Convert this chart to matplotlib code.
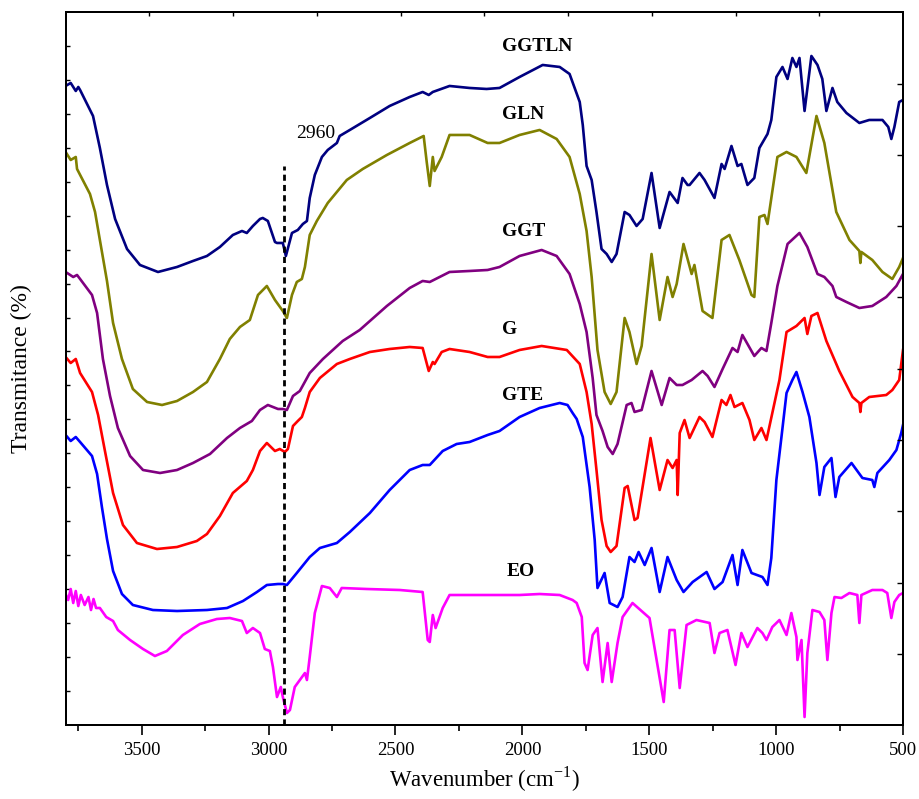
import numpy as np
import matplotlib
matplotlib.use("Agg")
import matplotlib.pyplot as plt
from matplotlib.ticker import MultipleLocator, FixedLocator

plt.rcParams['font.family'] = ['Liberation Serif', 'DejaVu Serif']
plt.rcParams['mathtext.fontset'] = 'custom'
plt.rcParams['mathtext.rm'] = 'Liberation Serif'

# ---------------- data (wavenumber cm^-1, offset transmittance, a.u.) ----------------
ggtln_x = [3800, 3780, 3760, 3750, 3743, 3692, 3665, 3637, 3605, 3558, 3507, 3436, 3361, 3298, 3243,
           3192, 3141, 3105, 3086, 3062, 3034, 3023, 3003, 2975, 2967, 2944, 2932, 2908, 2885, 2865,
           2849, 2838, 2818, 2790, 2767, 2731, 2720, 2680, 2601, 2523, 2444, 2393, 2369, 2353, 2287,
           2208, 2141, 2090, 2011, 1920, 1853, 1814, 1774, 1762, 1747, 1727, 1708, 1688, 1668, 1648,
           1629, 1597, 1578, 1550, 1526, 1491, 1459, 1420, 1388, 1369, 1349, 1341, 1302, 1282, 1243,
           1215, 1203, 1176, 1152, 1137, 1113, 1086, 1066, 1034, 1019, 999, 975, 955, 936, 920, 908,
           888, 861, 837, 818, 802, 778, 759, 723, 672, 633, 581, 558, 546, 534, 515, 500]
ggtln_y = [63.9, 64.2, 63.4, 63.8, 63.5, 60.9, 57.7, 54.0, 50.6, 47.6, 46.0, 45.3, 45.8, 46.4, 46.9,
           47.8, 49.0, 49.4, 49.2, 49.9, 50.6, 50.7, 50.4, 48.3, 48.2, 48.2, 46.9, 49.2, 49.5, 50.1,
           50.4, 52.7, 55.0, 56.8, 57.5, 58.2, 58.9, 59.5, 60.7, 61.9, 62.8, 63.3, 63.0, 63.3, 63.9,
           63.7, 63.6, 63.7, 64.8, 66.0, 65.8, 65.1, 62.3, 60.0, 55.9, 54.5, 51.3, 47.6, 47.1, 46.3,
           47.1, 51.3, 51.0, 49.9, 50.6, 55.2, 49.7, 53.3, 52.2, 54.7, 54.0, 54.0, 55.2, 54.5, 52.7,
           56.1, 55.6, 57.9, 55.9, 56.1, 54.0, 54.7, 57.7, 59.1, 60.5, 64.8, 65.8, 64.6, 66.7, 65.8, 66.7,
           61.4, 66.9, 66.0, 64.6, 61.4, 63.7, 62.3, 61.2, 60.2, 60.5, 60.5, 59.8, 58.6, 59.8, 62.3, 62.5]

gln_x = [3800, 3780, 3760, 3755, 3704, 3684, 3665, 3637, 3613, 3578, 3535, 3479, 3420, 3361, 3298,
         3243, 3192, 3153, 3113, 3074, 3042, 3007, 2975, 2944, 2928, 2908, 2889, 2869, 2857, 2838,
         2810, 2767, 2692, 2629, 2534, 2444, 2389, 2377, 2365, 2353, 2346, 2318, 2287, 2208, 2137,
         2090, 2011, 1932, 1865, 1814, 1774, 1747, 1727, 1704, 1676, 1652, 1629, 1597, 1578, 1550,
         1530, 1491, 1459, 1428, 1408, 1392, 1365, 1333, 1322, 1290, 1251, 1215, 1184, 1145, 1097,
         1086, 1066, 1046, 1034, 995, 959, 920, 881, 841, 810, 763, 711, 672, 668, 664, 621, 581,
         542, 515, 500]
gln_y = [57.3, 56.5, 56.8, 55.6, 53.1, 51.3, 48.5, 44.4, 40.2, 36.6, 33.6, 32.3, 32.0, 32.4, 33.3,
         34.3, 36.6, 38.6, 39.8, 40.5, 43.0, 43.9, 42.5, 41.4, 40.7, 43.0, 44.3, 44.6, 45.8, 49.0,
         50.4, 52.2, 54.5, 55.6, 57.0, 58.2, 58.9, 56.3, 53.9, 56.8, 55.4, 56.8, 59.0, 59.0, 58.2,
         58.2, 59.0, 59.5, 58.6, 56.8, 53.1, 49.4, 44.8, 37.5, 33.3, 32.1, 33.3, 40.7, 39.3, 36.1,
         37.9, 47.1, 40.5, 44.8, 42.8, 44.1, 48.1, 45.1, 46.0, 41.4, 40.7, 48.5, 49.0, 46.5, 43.0,
         42.8, 50.8, 51.0, 50.1, 56.8, 57.3, 56.8, 55.2, 60.9, 58.2, 51.3, 48.5, 47.4, 46.2, 47.3,
         46.5, 45.3, 44.6, 45.8, 46.7]

ggt_x = [3800, 3770, 3755, 3743, 3696, 3676, 3653, 3625, 3594, 3546, 3495, 3428, 3361, 3298, 3231,
         3164, 3113, 3066, 3034, 3003, 2963, 2944, 2928, 2904, 2877, 2838, 2786, 2708, 2641, 2534,
         2444, 2393, 2365, 2287, 2208, 2137, 2090, 2011, 1924, 1865, 1814, 1774, 1747, 1723, 1708,
         1684, 1664, 1644, 1625, 1589, 1570, 1558, 1530, 1491, 1451, 1420, 1392, 1369, 1333, 1290,
         1270, 1243, 1211, 1172, 1152, 1133, 1086, 1058, 1038, 1019, 995, 955, 908, 877, 837, 810,
         778, 763, 723, 672, 621, 566, 526, 500]
ggt_y = [45.3, 44.8, 45.0, 44.6, 43.0, 41.2, 36.6, 32.9, 29.7, 26.9, 25.5, 25.2, 25.5, 26.2, 27.1,
         28.7, 29.7, 30.4, 31.5, 32.0, 31.6, 31.6, 31.5, 32.9, 33.4, 35.2, 36.6, 38.4, 39.5, 41.9,
         43.7, 44.4, 44.3, 45.3, 45.4, 45.5, 45.8, 46.9, 47.5, 46.9, 45.1, 42.1, 39.3, 34.7, 31.0,
         29.4, 27.8, 27.1, 28.1, 32.0, 32.2, 31.3, 31.5, 35.4, 32.0, 34.7, 34.0, 34.0, 34.5, 35.4,
         34.9, 33.8, 35.6, 37.7, 37.3, 39.0, 36.9, 37.7, 37.4, 40.2, 43.9, 48.1, 49.2, 47.8, 45.1, 44.8,
         43.9, 42.8, 42.3, 41.7, 41.9, 42.8, 43.9, 45.1]

g_x = [3800, 3780, 3760, 3743, 3696, 3672, 3645, 3613, 3574, 3519, 3440, 3361, 3283, 3243, 3192,
       3141, 3086, 3062, 3034, 3007, 2975, 2956, 2936, 2924, 2904, 2885, 2869, 2857, 2838, 2798,
       2731, 2680, 2601, 2523, 2444, 2393, 2369, 2353, 2346, 2318, 2287, 2208, 2137, 2090, 2011,
       1924, 1825, 1774, 1747, 1727, 1708, 1688, 1668, 1652, 1629, 1597, 1585, 1558, 1546, 1495,
       1459, 1428, 1408, 1392, 1388, 1380, 1361, 1341, 1302, 1282, 1251, 1215, 1196, 1180, 1164,
       1133, 1105, 1086, 1058, 1038, 1015, 987, 959, 920, 888, 877, 861, 837, 802, 751, 699, 672,
       668, 664, 633, 566, 542, 515, 500]
g_y = [36.8, 36.2, 36.6, 35.2, 33.3, 31.0, 27.4, 23.2, 20.0, 18.2, 17.6, 17.8, 18.4, 19.1, 20.9,
       23.2, 24.4, 25.5, 27.4, 28.2, 27.4, 27.6, 27.3, 27.6, 29.9, 30.4, 30.8, 31.7, 33.3, 34.7,
       36.1, 36.6, 37.3, 37.6, 37.8, 37.7, 35.4, 36.3, 36.1, 37.3, 37.6, 37.3, 36.8, 36.8, 37.5,
       37.9, 37.5, 36.1, 33.3, 30.1, 25.5, 20.5, 17.9, 17.3, 17.9, 23.7, 23.9, 20.5, 20.7, 28.7,
       23.5, 26.5, 25.7, 26.5, 23.0, 29.2, 30.5, 28.7, 30.8, 30.3, 28.8, 32.5, 32.0, 33.0, 31.8,
       32.2, 30.5, 28.5, 29.7, 28.5, 31.2, 34.5, 39.3, 39.9, 40.7, 39.1, 40.9, 41.2, 38.4, 35.4, 32.8, 32.2,
       31.3, 32.2, 32.8, 33.0, 33.5, 34.5, 37.5]

gte_x = [3800, 3780, 3760, 3743, 3696, 3676, 3657, 3637, 3613, 3578, 3535, 3456, 3361, 3243, 3164,
         3101, 3046, 3007, 2963, 2944, 2928, 2889, 2838, 2798, 2731, 2680, 2601, 2523, 2444, 2393,
         2365, 2314, 2259, 2208, 2137, 2090, 2011, 1932, 1853, 1822, 1802, 1786, 1762, 1735, 1715,
         1704, 1676, 1656, 1625, 1605, 1578, 1558, 1542, 1518, 1491, 1459, 1428, 1392, 1365, 1329,
         1274, 1243, 1211, 1172, 1152, 1133, 1097, 1054, 1034, 1019, 999, 979, 959, 936, 920, 896,
         869, 841, 829, 810, 782, 766, 751, 703, 660, 621, 613, 601, 554, 526, 507, 500]
gte_y = [29.0, 28.4, 28.8, 28.3, 26.9, 25.1, 21.8, 18.6, 15.4, 13.1, 12.0, 11.5, 11.4, 11.5, 11.7,
         12.4, 13.3, 14.0, 14.1, 14.1, 14.0, 15.2, 16.8, 17.7, 18.2, 19.3, 21.2, 23.5, 25.5, 26.0,
         26.0, 27.4, 28.1, 28.3, 29.0, 29.4, 30.8, 31.7, 32.2, 32.0, 31.2, 30.6, 28.8, 23.8, 18.5,
         13.7, 15.2, 12.2, 11.8, 12.8, 16.8, 16.3, 17.3, 16.0, 17.7, 13.3, 16.8, 14.5, 13.3, 14.3,
         15.3, 13.6, 14.3, 17.0, 14.0, 17.5, 15.2, 14.8, 14.0, 16.7, 24.5, 28.8, 33.2, 34.5, 35.3, 33.3,
         30.8, 26.2, 23.0, 25.8, 26.7, 22.8, 24.8, 26.2, 24.7, 24.5, 23.8, 25.2, 26.5, 27.5, 29.2, 30.0]

eo_x = [3800, 3790, 3780, 3770, 3760, 3750, 3740, 3725, 3710, 3700, 3690, 3680, 3665, 3640, 3613,
        3594, 3546, 3495, 3448, 3401, 3338, 3271, 3204, 3153, 3105, 3086, 3062, 3034, 3015, 2995,
        2983, 2967, 2952, 2944, 2928, 2916, 2897, 2857, 2849, 2838, 2818, 2790, 2759, 2731, 2712,
        2613, 2483, 2393, 2373, 2365, 2353, 2342, 2314, 2287, 2208, 2137, 2011, 1932, 1853, 1802,
        1786, 1766, 1755, 1743, 1723, 1704, 1684, 1664, 1648, 1625, 1605, 1566, 1499, 1471, 1443,
        1420, 1400, 1380, 1353, 1314, 1262, 1243, 1223, 1192, 1160, 1137, 1113, 1074, 1054, 1038,
        1015, 987, 959, 940, 920, 916, 900, 888, 877, 857, 829, 810, 798, 782, 770, 743, 711, 680,
        672, 664, 621, 581, 562, 546, 534, 515, 500]
eo_y = [13.1, 12.5, 13.6, 12.2, 13.4, 11.9, 13.0, 12.0, 12.8, 11.5, 12.6, 11.7, 11.7, 10.8, 10.4,
        9.5, 8.5, 7.6, 6.9, 7.4, 9.0, 10.1, 10.6, 10.7, 10.4, 9.2, 9.7, 9.2, 7.6, 7.4,
        5.8, 2.8, 3.8, 2.8, 1.2, 1.5, 3.8, 5.2, 4.5, 6.8, 11.2, 13.9, 13.7, 12.8, 13.7,
        13.6, 13.5, 13.3, 8.5, 8.3, 11.0, 9.7, 11.7, 13.0, 13.0, 13.0, 13.0, 13.1, 13.0, 12.5,
        12.2, 10.8, 6.2, 5.5, 9.0, 9.7, 4.3, 8.2, 4.3, 8.2, 10.8, 12.2, 10.7, 6.5, 2.3,
        9.5, 9.5, 3.7, 10.0, 10.5, 10.2, 7.2, 9.2, 9.5, 6.0, 9.2, 7.8, 9.7, 9.2, 8.5,
        9.8, 10.5, 9.0, 11.2, 8.8, 6.5, 8.5, 0.8, 7.2, 11.5, 11.3, 10.5, 6.5, 11.2, 12.8, 12.7, 13.2, 13.0,
        10.2, 13.0, 13.5, 13.5, 13.2, 10.7, 12.3, 13.0, 13.2]

series = [
    ("GGTLN", ggtln_x, ggtln_y, "#000080"),
    ("GLN", gln_x, gln_y, "#808000"),
    ("GGT", ggt_x, ggt_y, "#800080"),
    ("G", g_x, g_y, "#FF0000"),
    ("GTE", gte_x, gte_y, "#0000FF"),
    ("EO", eo_x, eo_y, "#FF00FF"),
]

# label anchor positions (wavenumber, value)
label_pos = {
    "GGTLN": (2081, 67.8),
    "GLN": (2081, 61.0),
    "GGT": (2081, 49.3),
    "G": (2081, 39.5),
    "GTE": (2081, 32.9),
    "EO": (2062, 15.4),
}

marker_wn = 2939
marker_top = 55.9
marker_text = "2960"

# ---------------- figure ----------------
fig = plt.figure(figsize=(9.19, 7.99), dpi=100)
ax = fig.add_axes([0.0714, 0.0926, 0.9112, 0.8918])

for name, xs, ys, col in series:
    ax.plot(xs, ys, color=col, lw=1.9, solid_joinstyle='round')
    lx, ly = label_pos[name]
    ax.text(lx, ly, name, fontsize=14, fontweight='bold', ha='left', va='center', color='black')

ax.plot([marker_wn, marker_wn], [0, marker_top], color='black', lw=2.0, ls=(0, (2.2, 1.5)))
ax.text(2814, 59.1, marker_text, fontsize=14, ha='center', va='center')

ax.set_xlim(3800, 500)
ax.set_ylim(0, 71.25)

# bottom ticks
ax.xaxis.set_major_locator(MultipleLocator(500))
ax.xaxis.set_minor_locator(MultipleLocator(250))
ax.tick_params(axis='x', which='major', direction='out', length=7, width=1.2, labelsize=13.5, pad=5)
ax.tick_params(axis='x', which='minor', direction='out', length=4, width=1.2)

# left ticks (no labels)
ax.yaxis.set_major_locator(FixedLocator(list(71.25 - 3.39 * np.arange(1, 21))))
ax.tick_params(axis='y', which='major', direction='in', length=3, width=1.0, labelleft=False, left=True)

# right axis ticks
ax_r = ax.twinx()
ax_r.set_ylim(ax.get_ylim())
ax_r.yaxis.set_major_locator(FixedLocator(list(71.25 - 7.125 * np.arange(1, 10))))
ax_r.tick_params(axis='y', direction='in', length=4, width=1.0, labelright=False)

# top axis ticks
ax_t = ax.twiny()
ax_t.set_xlim(ax.get_xlim())
ax_t.xaxis.set_major_locator(FixedLocator(list(3800 - 330 * np.arange(1, 10))))
ax_t.tick_params(axis='x', direction='in', length=3, width=1.0, labeltop=False)

for a in (ax, ax_r, ax_t):
    for s in a.spines.values():
        s.set_linewidth(1.3)

ax.set_xlabel('Wavenumber (cm$^{\\mathregular{-1}}$)', fontsize=16.5)
ax.xaxis.set_label_coords(0.5, -0.056)
ax.set_ylabel('Transmitance (%)', fontsize=17)
ax.yaxis.set_label_coords(-0.04, 0.5)

fig.savefig('out.png', dpi=100)
